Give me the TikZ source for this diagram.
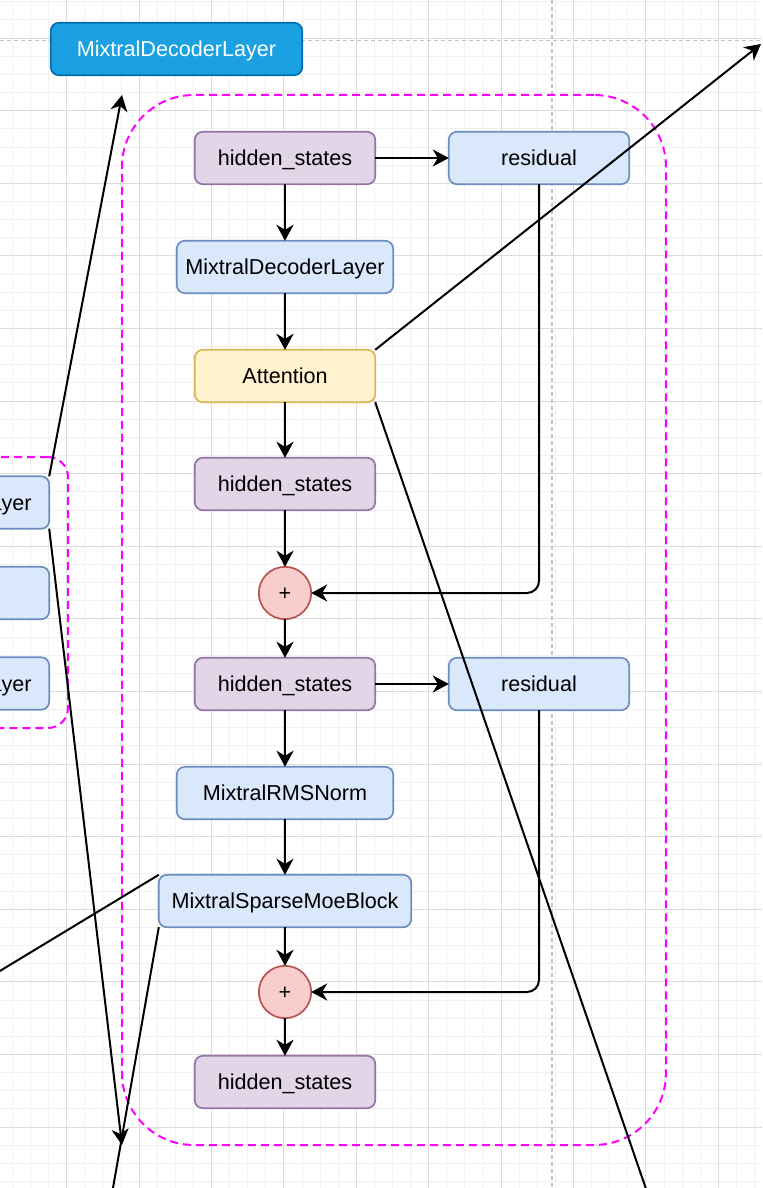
\documentclass[tikz,border=0pt]{standalone}
\usepackage{fontspec}
\setmainfont{Liberation Sans}
\usetikzlibrary{arrows.meta, positioning}
\definecolor{purplefill}{HTML}{E1D5E7}
\definecolor{purpleline}{HTML}{9673A6}
\definecolor{bluefill}{HTML}{DAE8FC}
\definecolor{blueline}{HTML}{6C8EBF}
\definecolor{yellowfill}{HTML}{FFF2CC}
\definecolor{yellowline}{HTML}{D6B656}
\definecolor{redfill}{HTML}{F8CECC}
\definecolor{redline}{HTML}{B85450}
\definecolor{layerfill}{HTML}{1BA1E2}
\definecolor{layerline}{HTML}{006EAF}
\definecolor{groupline}{HTML}{FF00FF}
\definecolor{minorgrid}{HTML}{F1F1F1}
\definecolor{majorgrid}{HTML}{DCDCDC}
\definecolor{pagebreak}{HTML}{C4C4C4}

\begin{document}
\begin{tikzpicture} [
    x=0.5pt, y=-0.5pt,
    N/.style = {draw, rounded corners=4pt, line width=0.85pt, minimum height=26.2pt, inner sep=0pt, outer sep=0pt,
                text height=7.8pt, text depth=0pt, font=\fontsize{10.8}{13}\selectfont},
    hs/.style = {N, fill=purplefill, draw=purpleline, minimum width=90.2pt},
    res/.style = {N, fill=bluefill, draw=blueline, minimum width=90.2pt},
    mod/.style = {N, fill=bluefill, draw=blueline},
    add/.style = {circle, draw=redline, fill=redfill, line width=0.85pt, minimum size=26.2pt, inner sep=0pt, outer sep=0pt,
                  text height=7.8pt, text depth=0pt, font=\fontsize{10.8}{13}\selectfont},
    grp/.style = {draw=groupline, line width=1pt, dash pattern=on 4pt off 2.5pt},
    link/.style = {draw, -{Stealth[length=8pt, width=8.5pt, inset=2.5pt]}, line width=1pt},
    every edge/.style = {link}
    ]

  \useasboundingbox (0,0) rectangle (762,1188);
  \clip (0,0) rectangle (762,1188);

  %%% GRID %%%
  \foreach \k in {-3,...,38}
    \draw[draw=minorgrid, line width=0.5pt] ({66.7+18.1*\k},0) -- ({66.7+18.1*\k},1188);
  \foreach \k in {-6,...,59}
    \draw[draw=minorgrid, line width=0.5pt] (0,{110.7+18.15*\k}) -- (762,{110.7+18.15*\k});
  \foreach \k in {-1,...,9}
    \draw[draw=majorgrid, line width=0.5pt] ({66.7+72.4*\k},0) -- ({66.7+72.4*\k},1188);
  \foreach \k in {-1,...,14}
    \draw[draw=majorgrid, line width=0.5pt] (0,{110.7+72.6*\k}) -- (762,{110.7+72.6*\k});
    % page breaks
    \draw[draw=pagebreak, line width=0.75pt, dash pattern=on 2pt off 1.5pt] (0,40.5) -- (762,40.5);
    \draw[draw=pagebreak, line width=0.75pt, dash pattern=on 2pt off 1.5pt] (552,0) -- (552,1188);

  %%% GROUPS %%%
  \node[grp, rounded corners=36pt, minimum width=272pt, minimum height=525pt, outer sep=0pt] (group) at (394,620) {};
  \node[grp, rounded corners=10pt, minimum width=109pt, minimum height=135.5pt] (prevgroup) at (-41,592.5) {};

  %%% MixtralDecoderLayer (TOP) %%%
  \node[N, fill=layerfill, draw=layerline, text=white, minimum width=125.7pt] (layer) at (176.5,49) {MixtralDecoderLayer};

  %%% PREVIOUS LAYERS %%%
  \node[mod, minimum width=117.2pt] (prev1) at (-68,502.5) {MixtralDecoderLayer};
  \node[mod, minimum width=117.2pt] (prev2) at (-68,593)   {};
  \node[mod, minimum width=117.2pt] (prev3) at (-68,683.5) {MixtralDecoderLayer};

  %%% ATTENTION BLOCK %%%
  \node[hs] (hs1) at (285,158) {hidden\_states};
  \node[res, right=36.8pt of hs1] (res1) {residual};
  \node[mod, minimum width=108.2pt, below=28.3pt of hs1] (decoder) {MixtralDecoderLayer};
  \node[N, fill=yellowfill, draw=yellowline, minimum width=90.2pt, below=28.3pt of decoder] (attn) {Attention};
  \node[hs, below=27.8pt of attn] (hs2) {hidden\_states};
  \node[add, below=28.3pt of hs2] (add1) {+};

  %%% MOE BLOCK %%%
  \node[hs, below=19.3pt of add1] (hs3) {hidden\_states};
  \node[res, right=36.8pt of hs3] (res2) {residual};
  \node[mod, minimum width=108.2pt, below=28.3pt of hs3] (rmsnorm) {MixtralRMSNorm};
  \node[mod, minimum width=126.2pt, below=27.8pt of rmsnorm] (moe) {MixtralSparseMoeBlock};
  \node[add, below=19.3pt of moe] (add2) {+};
  \node[hs, below=18.8pt of add2] (hs4) {hidden\_states};

  % off-page ends
  \coordinate (farTR) at (761,44);
  \coordinate (farBR) at (655,1215);
  \coordinate (farL)  at (-20,983);
  \coordinate (farB)  at (110,1205);

  % Edges
  \path (hs1) edge (res1);
  \path (hs1) edge (decoder);
  \path (decoder) edge (attn);
  \path (attn) edge (hs2);
  \path (hs2) edge (add1);
  \draw[link, rounded corners=6pt] (res1.south) |- (add1.east);

  \path (add1) edge (hs3);
  \path (hs3) edge (res2);
  \path (hs3) edge (rmsnorm);
  \path (rmsnorm) edge (moe);
  \path (moe) edge (add2);
  \path (add2) edge (hs4);
  \draw[link, rounded corners=6pt] (res2.south) |- (add2.east);

  \path (prev1.north east) edge (group.north west);
  \path (prev1.south east) edge (group.south west);
  \path (attn.north east) edge (farTR);
  \draw[line width=1pt] (attn.south east) -- (farBR);
  \draw[line width=1pt] (moe.north west) -- (farL);
  \draw[line width=1pt] (moe.south west) -- (farB);

\end{tikzpicture}
\end{document}
